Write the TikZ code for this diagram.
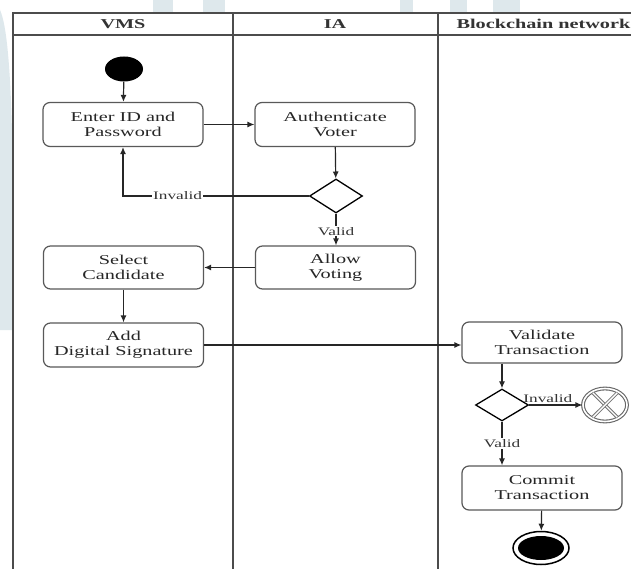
\documentclass[tikz,border=0pt]{standalone}
\usepackage{fontspec}
\setmainfont{Liberation Serif}[FakeStretch=1.5]
\usetikzlibrary{shapes.geometric,arrows.meta,calc}
\definecolor{wm}{RGB}{222,232,236}
\begin{document}
\begin{tikzpicture}[x=1pt,y=-1pt,
  lane/.style={draw=black!70, line width=1.4pt},
  act/.style={draw=black!65, line width=1.2pt, rounded corners=7pt,
    minimum width=160pt, minimum height=44pt, align=center, inner sep=0pt,
    font=\fontsize{13.5}{15}\selectfont, text=black!85},
  dec/.style={draw=black, line width=1.3pt, diamond, inner sep=0pt,
    minimum width=53pt, minimum height=34pt},
  hdr/.style={font=\fontsize{13.5}{15}\selectfont\bfseries, text=black!80},
  lbl/.style={font=\fontsize{11.5}{13}\selectfont, text=black!80, fill=white, inner sep=1pt},
  flow/.style={draw=black!85, line width=1.2pt, -{Latex[length=7pt,width=6pt]}},
  xmark/.style={black!55, line width=0.9pt, double=white, double distance=1.4pt, shorten >=2pt, shorten <=2pt}
]
\clip (0,0) rectangle (631,569);
\fill[white] (0,0) rectangle (631,569);
% faint watermark
\fill[wm] (153,0) rectangle (173,12);
\fill[wm] (203,0) rectangle (225,12);
\fill[wm] (400,0) rectangle (413,12);
\fill[wm] (450,0) rectangle (467,12);
\fill[wm] (493,0) rectangle (520,12);
\fill[wm] (0,10) .. controls (14,40) and (14,200) .. (12,330) -- (0,330) -- cycle;
% swimlanes
\draw[lane] (13,569) -- (13,13) -- (640,13);
\draw[lane] (13,35) -- (640,35);
\draw[lane] (233,13) -- (233,569);
\draw[lane] (438,13) -- (438,569);
\node[hdr] (h1) at (123,24) {VMS};
\node[hdr] (h2) at (335,24) {IA};
\node[hdr, anchor=west] (h3) at (453,24) {Blockchain network};
% nodes
\node[ellipse, fill=black, minimum width=38pt, minimum height=25pt, inner sep=0pt] (start) at (124,69) {};
\node[act] (enter) at (123,124.5) {Enter ID and\\Password};
\node[act] (auth) at (335,124.5) {Authenticate\\Voter};
\node[dec] (d1) at (336,196) {};
\node[act, minimum height=43pt] (allow) at (335.5,267.5) {Allow\\Voting};
\node[act, minimum height=43pt] (select) at (123.5,267.5) {Select\\Candidate};
\node[act] (addsig) at (123.5,345) {Add\\Digital Signature};
\node[act, minimum height=41pt] (validate) at (542,342.5) {Validate\\Transaction};
\node[dec, minimum height=32pt] (d2) at (502,405) {};
\node[ellipse, draw=black!60, line width=1.1pt, double=white, double distance=1.6pt,
  minimum width=44pt, minimum height=33pt, inner sep=0pt] (ff) at (605,405) {};
\draw[xmark] (ff.135) -- (ff.-45);
\draw[xmark] (ff.45) -- (ff.-135);
\node[act] (commit) at (542,488) {Commit\\Transaction};
\node[ellipse, draw=black, line width=1.5pt, minimum width=56pt, minimum height=33pt, inner sep=0pt] (end) at (541,548) {};
\node[ellipse, fill=black, minimum width=46pt, minimum height=24pt, inner sep=0pt] (endin) at (541,548) {};
% connectors
\draw[flow] (start) -- (enter);
\draw[flow] (enter) -- (auth);
\draw[flow] (auth) -- (d1);
\draw[flow] (d1.west) -| node[lbl, pos=0.353] {Invalid} (enter.south);
\draw[flow] (d1.south) -- node[lbl, pos=0.55] {Valid} (d1.south |- allow.north);
\draw[flow] (allow) -- (select);
\draw[flow] (select) -- (addsig);
\draw[flow] (addsig.east) -- (validate.west |- addsig.east);
\draw[flow] (d2.north |- validate.south) -- (d2.north);
\draw[flow] (d2.east) -- node[lbl, above=1pt, fill=none, pos=0.35] {Invalid} (ff.west);
\draw[flow] (d2.south) -- node[lbl, pos=0.5] {Valid} (d2.south |- commit.north);
\draw[flow] (commit) -- (end);
\end{tikzpicture}
\end{document}
